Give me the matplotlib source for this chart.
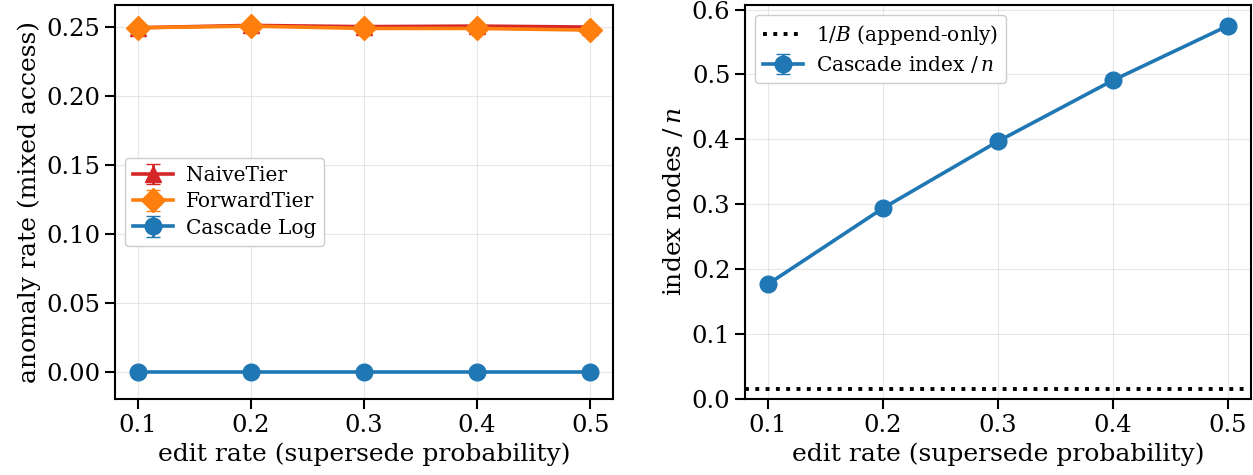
#!/usr/bin/env python3
"""Anomaly rate and cascade index size vs edit rate."""

import matplotlib
matplotlib.use("Agg")
import matplotlib.pyplot as plt
import numpy as np

plt.rcParams["font.family"] = "DejaVu Serif"
plt.rcParams["mathtext.fontset"] = "dejavuserif"

# ---------------------------------------------------------------- data

edit_rate = [0.1, 0.2, 0.3, 0.4, 0.5]

naive_anom   = [0.2495, 0.2512, 0.2503, 0.2507, 0.2500]
forward_anom = [0.2495, 0.2507, 0.2490, 0.2490, 0.2478]
cascade_anom = [0.0, 0.0, 0.0, 0.0, 0.0]
anom_err     = [0.0008, 0.0008, 0.0008, 0.0008, 0.0008]

cascade_index = [0.177, 0.294, 0.397, 0.491, 0.575]
index_err     = [0.002, 0.002, 0.002, 0.002, 0.002]
B = 64

C_RED, C_ORANGE, C_BLUE = "#d62728", "#ff7f0e", "#1f77b4"

# ---------------------------------------------------------------- figure

fig = plt.figure(figsize=(12.53, 4.75), dpi=100)
ax1 = fig.add_axes([0.0918, 0.160, 0.3974, 0.8295])
ax2 = fig.add_axes([0.5946, 0.160, 0.4038, 0.8295])

kw = dict(lw=2.6, ms=12, capsize=5, elinewidth=2)
ax1.errorbar(edit_rate, naive_anom, yerr=anom_err, marker="^", color=C_RED,
             label="NaiveTier", **kw)
ax1.errorbar(edit_rate, forward_anom, yerr=anom_err, marker="D", color=C_ORANGE,
             label="ForwardTier", **kw)
ax1.errorbar(edit_rate, cascade_anom, yerr=anom_err, marker="o", color=C_BLUE,
             label="Cascade Log", **kw)
ax1.set_xlabel("edit rate (supersede probability)", fontsize=18)
ax1.set_ylabel("anomaly rate (mixed access)", fontsize=18)
ax1.set_xticks(edit_rate)
ax1.set_ylim(-0.0196, 0.266)
ax1.legend(loc="center left", fontsize=14.5, edgecolor="#cccccc", framealpha=1,
           handlelength=2.0, borderpad=0.4, labelspacing=0.35,
           handletextpad=0.6)

ax2.axhline(1 / B, color="black", ls=":", lw=2.8, label=r"$1/B$ (append-only)")
ax2.errorbar(edit_rate, cascade_index, yerr=index_err, marker="o", color=C_BLUE,
             label=r"Cascade index $/\,n$", **kw)
ax2.set_xlabel("edit rate (supersede probability)", fontsize=18)
ax2.set_ylabel(r"index nodes $/\,n$", fontsize=18)
ax2.set_xticks(edit_rate)
ax2.set_ylim(0, 0.607)
ax2.legend(loc="upper left", fontsize=14.5, edgecolor="#cccccc", framealpha=1,
           handlelength=2.0, borderpad=0.4, labelspacing=0.35,
           handletextpad=0.6)

for ax in (ax1, ax2):
    ax.grid(True, alpha=0.3)
    ax.tick_params(labelsize=17.5, width=1.5, length=7)
    for s in ax.spines.values():
        s.set_linewidth(1.5)

plt.savefig("out.png", dpi=100)
